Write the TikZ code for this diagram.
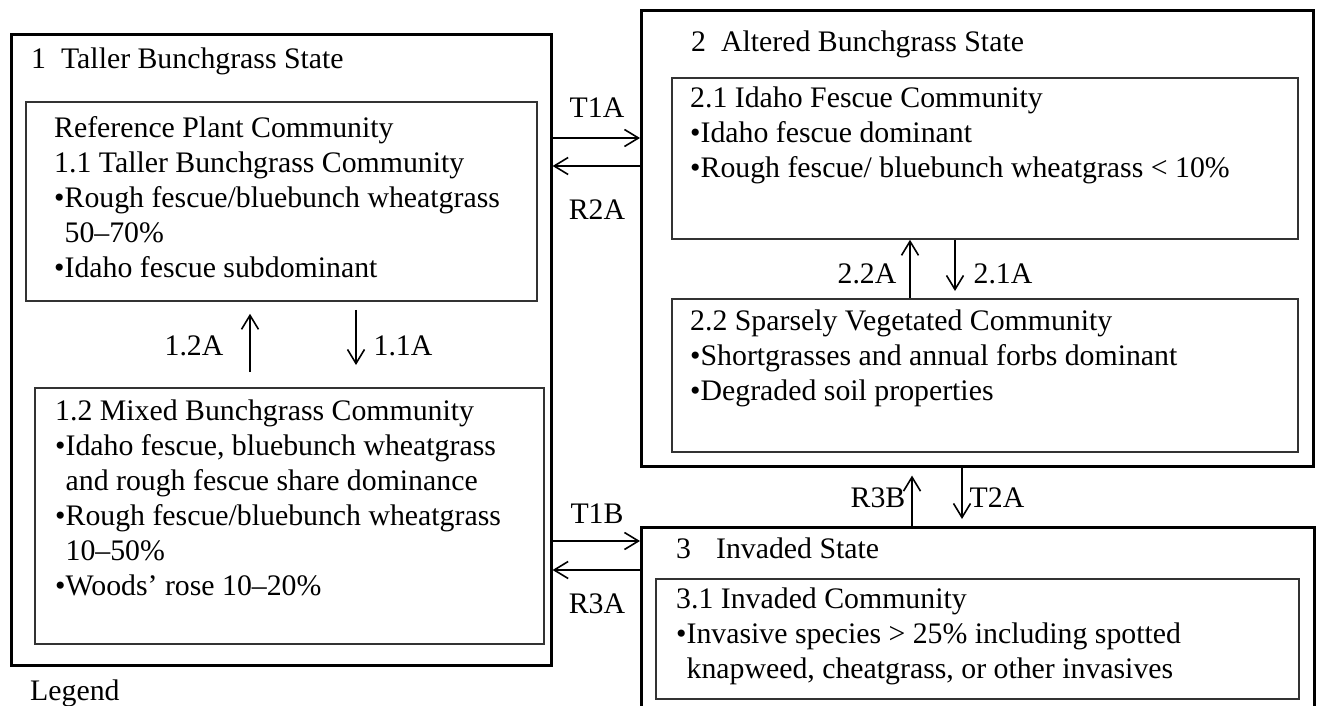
\documentclass[tikz,border=0pt]{standalone}
\usepackage{fontspec}
\setmainfont{Liberation Serif}
\usetikzlibrary{arrows.meta}

\tikzset{
  statebox/.style={draw, line width=2.6pt, inner sep=0pt, anchor=north west},
  commbox/.style={draw=black!80, line width=1.8pt, inner sep=0pt, anchor=north west},
  txt/.style={font=\fontsize{29.8}{35}\selectfont, align=left, inner sep=0pt, anchor=north west},
  lbl/.style={font=\fontsize{29.8}{35}\selectfont, inner sep=0pt, anchor=base},
  arr/.style={line width=1.6pt, -{Straight Barb[length=14pt,width=17pt]}}
}

\begin{document}
\begin{tikzpicture}[x=1pt,y=-1pt]
  \useasboundingbox (0,0) rectangle (1317,706);
  \clip (0,0) rectangle (1317,706);

  \node[statebox, minimum width=540pt, minimum height=631pt] (s1) at (10,33) {};
  \node[commbox, minimum width=511pt, minimum height=199pt] (c11) at (25,101) {};
  \node[commbox, minimum width=509pt, minimum height=256pt] (c12) at (34,387) {};
  \node[statebox, minimum width=672pt, minimum height=456pt] (s2) at (640,9) {};
  \node[commbox, minimum width=626pt, minimum height=161pt] (c21) at (671,77) {};
  \node[commbox, minimum width=626pt, minimum height=153pt] (c22) at (671,298) {};
  \node[statebox, minimum width=673pt, minimum height=200pt] (s3) at (640,526) {};
  \node[commbox, minimum width=643pt, minimum height=120pt] (c31) at (655,578) {};

  \node[lbl, anchor=base west] (t1) at (31,69) {1\hspace{15pt}Taller Bunchgrass State};
  \node[lbl, anchor=base west] (t2) at (691,52) {2\hspace{15pt}Altered Bunchgrass State};
  \node[lbl, anchor=base west] (t3) at (676,558) {3\hspace{25pt}Invaded State};

  \node[txt] (x11) at (54,112.5) {\strut Reference Plant Community\\
    1.1 Taller Bunchgrass Community\\
    •Rough fescue/bluebunch wheatgrass\\
    \phantom{•}50–70\%\\
    •Idaho fescue subdominant};
  \node[txt] (x12) at (55,395.5) {\strut 1.2 Mixed Bunchgrass Community\\
    •Idaho fescue, bluebunch wheatgrass\\
    \phantom{•}and rough fescue share dominance\\
    •Rough fescue/bluebunch wheatgrass\\
    \phantom{•}10–50\%\\
    •Woods’ rose 10–20\%};
  \node[txt] (x21) at (690,82.5) {\strut 2.1 Idaho Fescue Community\\
    •Idaho fescue dominant\\
    •Rough fescue/ bluebunch wheatgrass < 10\%};
  \node[txt] (x22) at (690,305.5) {\strut 2.2 Sparsely Vegetated Community\\
    •Shortgrasses and annual forbs dominant\\
    •Degraded soil properties};
  \node[txt] (x31) at (676,583.5) {\strut 3.1 Invaded Community\\
    •Invasive species > 25\% including spotted\\
    \phantom{•}knapweed, cheatgrass, or other invasives};

  \node[lbl, anchor=base west] (legend) at (30,700) {Legend};

  \node[lbl] (l12a) at (194,355) {1.2A};
  \node[lbl] (l11a) at (403,355) {1.1A};
  \node[lbl] (l22a) at (867,283) {2.2A};
  \node[lbl] (l21a) at (1003,283) {2.1A};
  \node[lbl] (lr3b) at (878,507) {R3B};
  \node[lbl] (lt2a) at (997,507) {T2A};
  \node[lbl] (lt1a) at (597,118) {T1A};
  \node[lbl] (lr2a) at (597,219) {R2A};
  \node[lbl] (lt1b) at (597,523) {T1B};
  \node[lbl] (lr3a) at (597,613) {R3A};

  \coordinate (ht1a) at (0,138);
  \coordinate (hr2a) at (0,166);
  \coordinate (ht1b) at (0,541);
  \coordinate (hr3a) at (0,570);
  \coordinate (v12a) at (250,0);
  \coordinate (v11a) at (356,0);
  \coordinate (v22a) at (910,0);
  \coordinate (v21a) at (955,0);
  \coordinate (vr3b) at (912,0);
  \coordinate (vt2a) at (962,0);

  \draw[arr] (s1.east |- ht1a) -- (s2.west |- ht1a);
  \draw[arr] (s2.west |- hr2a) -- (s1.east |- hr2a);
  \draw[arr] (s1.east |- ht1b) -- (s3.west |- ht1b);
  \draw[arr] (s3.west |- hr3a) -- (s1.east |- hr3a);
  \draw[arr, shorten <=15pt, shorten >=12pt] (c12.north -| v12a) -- (c11.south -| v12a);
  \draw[arr, shorten <=8pt, shorten >=22pt] (c11.south -| v11a) -- (c12.north -| v11a);
  \draw[arr] (c22.north -| v22a) -- (c21.south -| v22a);
  \draw[arr, shorten >=7pt] (c21.south -| v21a) -- (c22.north -| v21a);
  \draw[arr, shorten >=8pt] (s3.north -| vr3b) -- (s2.south -| vr3b);
  \draw[arr, shorten >=7pt] (s2.south -| vt2a) -- (s3.north -| vt2a);
\end{tikzpicture}
\end{document}
